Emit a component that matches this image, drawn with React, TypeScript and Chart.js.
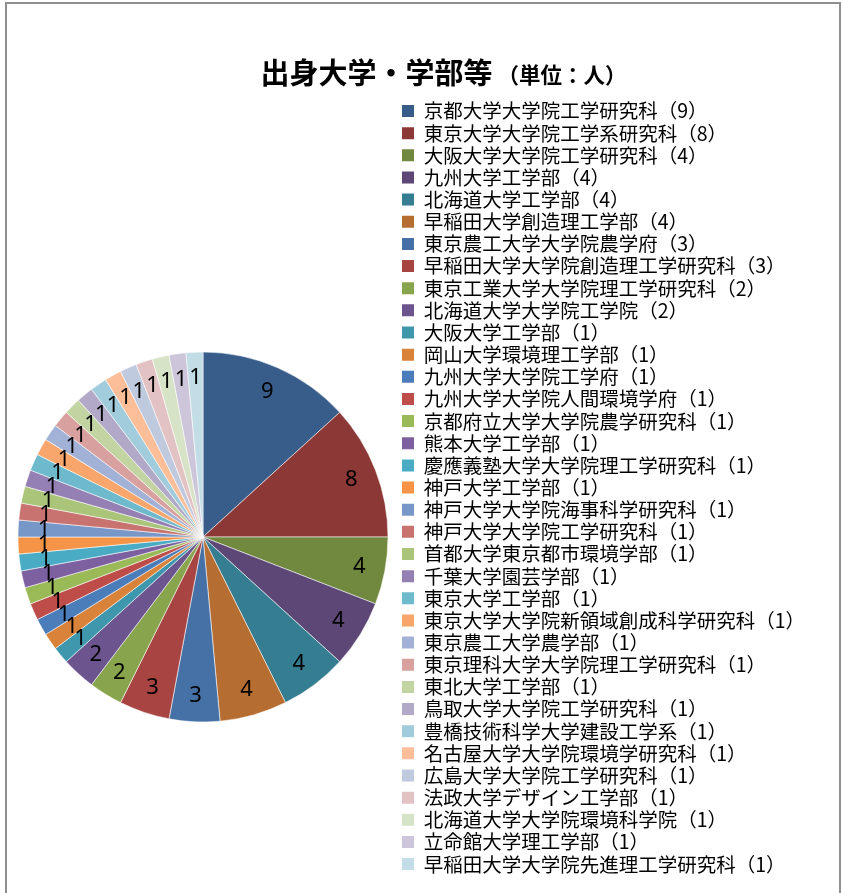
import React, { useEffect, useRef } from 'react';
import { Chart, registerables } from 'chart.js';

Chart.register(...registerables);

const titleMain = '出身大学・学部等';
const titleUnit = '（単位：人）';

const categories = [
  '京都大学大学院工学研究科',
  '東京大学大学院工学系研究科',
  '大阪大学大学院工学研究科',
  '九州大学工学部',
  '北海道大学工学部',
  '早稲田大学創造理工学部',
  '東京農工大学大学院農学府',
  '早稲田大学大学院創造理工学研究科',
  '東京工業大学大学院理工学研究科',
  '北海道大学大学院工学院',
  '大阪大学工学部',
  '岡山大学環境理工学部',
  '九州大学大学院工学府',
  '九州大学大学院人間環境学府',
  '京都府立大学大学院農学研究科',
  '熊本大学工学部',
  '慶應義塾大学大学院理工学研究科',
  '神戸大学工学部',
  '神戸大学大学院海事科学研究科',
  '神戸大学大学院工学研究科',
  '首都大学東京都市環境学部',
  '千葉大学園芸学部',
  '東京大学工学部',
  '東京大学大学院新領域創成科学研究科',
  '東京農工大学農学部',
  '東京理科大学大学院理工学研究科',
  '東北大学工学部',
  '鳥取大学大学院工学研究科',
  '豊橋技術科学大学建設工学系',
  '名古屋大学大学院環境学研究科',
  '広島大学大学院工学研究科',
  '法政大学デザイン工学部',
  '北海道大学大学院環境科学院',
  '立命館大学理工学部',
  '早稲田大学大学院先進理工学研究科',
];

const counts = [
  9, 8, 4, 4, 4, 4, 3, 3, 2, 2,
  1, 1, 1, 1, 1, 1, 1, 1, 1, 1,
  1, 1, 1, 1, 1, 1, 1, 1, 1, 1,
  1, 1, 1, 1, 1,
];

const sliceColors = [
  '#385D8A', '#8C3836', '#71893F', '#5C4776', '#357D91', '#B66D31',
  '#4571A6', '#A84442', '#88A44D', '#6C548E', '#3F97AE', '#D9823A',
  '#4B7DBA', '#BE4D4A', '#9ABA58', '#7D60A0', '#4AABC5', '#F59446',
  '#7797C9', '#C97371', '#AAC47A', '#9580B3', '#6EB9CC', '#F8A66B',
  '#A1B2D6', '#D8A09F', '#C3D4A3', '#B2A8C8', '#A0CCDC', '#FBBE98',
  '#C0CADF', '#E3C2C3', '#D7E3C6', '#CDC6DA', '#C2DDE5',
];

const legendLabels = categories.map((c, i) => `${c}（${counts[i]}）`);

const valueLabelPlugin = {
  id: 'valueLabels',
  afterDatasetsDraw(chart: any) {
    const meta = chart.getDatasetMeta(0);
    const ctx = chart.ctx;
    ctx.save();
    ctx.font = '22px "Noto Sans", "DejaVu Sans", sans-serif';
    ctx.fillStyle = '#000000';
    ctx.textAlign = 'center';
    ctx.textBaseline = 'middle';
    meta.data.forEach((arc: any, i: number) => {
      const p = arc.getProps(['x', 'y', 'startAngle', 'endAngle', 'outerRadius'], true);
      const mid = (p.startAngle + p.endAngle) / 2;
      const r = p.outerRadius * 0.86;
      ctx.fillText(String(counts[i]), p.x + Math.cos(mid) * r, p.y + Math.sin(mid) * r);
    });
    ctx.restore();
  },
};

const titlePlugin = {
  id: 'mixedTitle',
  afterDraw(chart: any) {
    const ctx = chart.ctx;
    ctx.save();
    const mainFont = 'bold 29px "Noto Sans CJK JP", sans-serif';
    const unitFont = 'bold 21.5px "Noto Sans CJK JP", sans-serif';
    ctx.font = mainFont;
    const wMain = ctx.measureText(titleMain).width;
    const x0 = 260.5;
    const y = 73;
    ctx.fillStyle = '#000000';
    ctx.textBaseline = 'middle';
    ctx.textAlign = 'left';
    ctx.font = mainFont;
    ctx.fillText(titleMain, x0, y);
    ctx.font = unitFont;
    ctx.fillText(titleUnit, x0 + wMain + 5, y + 2);
    ctx.restore();
  },
};

export default function App() {
  const canvasRef = useRef<HTMLCanvasElement | null>(null);

  useEffect(() => {
    const canvas = canvasRef.current;
    if (!canvas) return;
    const ov: any = (Chart as any).overrides;
    const baseGen =
      (ov && ov.pie && ov.pie.plugins && ov.pie.plugins.legend && ov.pie.plugins.legend.labels &&
        ov.pie.plugins.legend.labels.generateLabels) ||
      (ov && ov.doughnut && ov.doughnut.plugins.legend.labels.generateLabels);
    const chart = new Chart(canvas, {
      type: 'pie',
      data: {
        labels: legendLabels,
        datasets: [
          {
            data: counts,
            backgroundColor: sliceColors,
            borderColor: 'rgba(255,255,255,0.7)',
            borderWidth: 0.8,
            radius: 185,
          },
        ],
      },
      options: {
        responsive: false,
        animation: false,
        devicePixelRatio: 1,
        layout: {
          padding: { top: 98.6, left: 6.65, right: 45, bottom: 4.6 },
        },
        plugins: {
          title: { display: false },
          tooltip: { enabled: false },
          legend: {
            display: true,
            position: 'right',
            align: 'start',
            maxWidth: 397.65,
            labels: {
              color: '#000000',
              boxWidth: 12,
              boxHeight: 12,
              padding: 2.65,
              font: { family: '"Noto Sans CJK JP", sans-serif', size: 19.5 },
              generateLabels: (c: any) =>
                baseGen(c).map((l: any) => ({ ...l, lineWidth: 0, strokeStyle: 'rgba(0,0,0,0)' })),
            },
          },
        },
      },
      plugins: [valueLabelPlugin, titlePlugin],
    } as any);
    return () => chart.destroy();
  }, []);

  return (
    <div
      style={{
        position: 'absolute',
        left: 0,
        top: 0,
        width: 842,
        height: 893,
        overflow: 'hidden',
        background: '#ffffff',
      }}
    >
      <canvas
        ref={canvasRef}
        width={842}
        height={980}
        style={{ position: 'absolute', left: 0, top: 0 }}
      />
      <div
        style={{
          position: 'absolute',
          left: 5,
          top: 2,
          width: 836,
          height: 960,
          boxSizing: 'border-box',
          border: '2px solid #8f8f8f',
          pointerEvents: 'none',
        }}
      />
    </div>
  );
}
